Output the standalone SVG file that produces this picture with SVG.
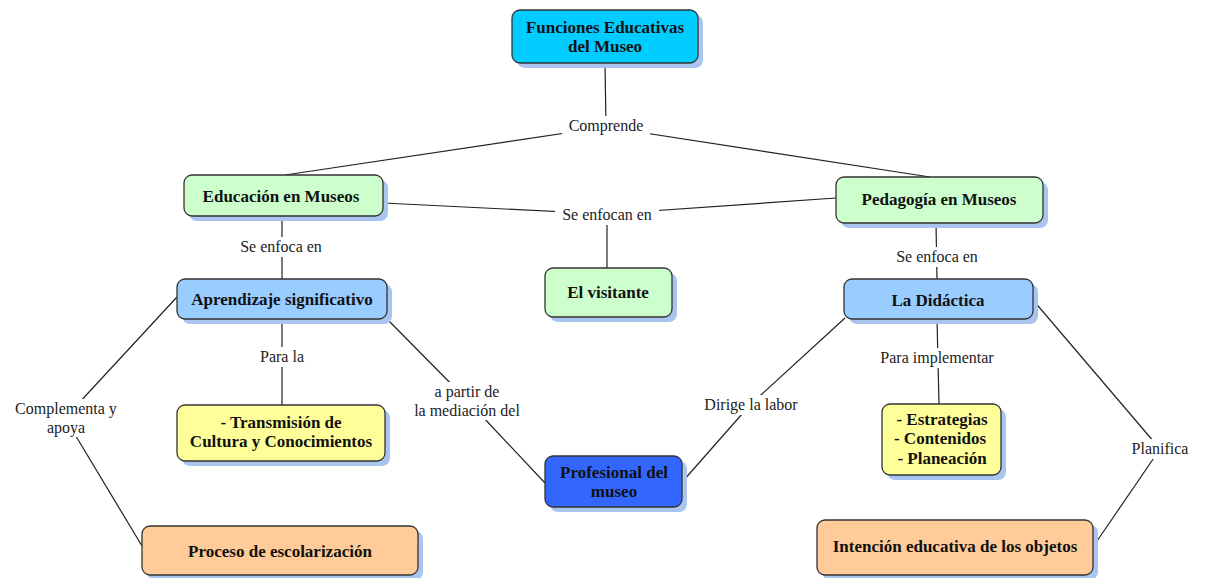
<svg xmlns="http://www.w3.org/2000/svg" width="1207" height="578" viewBox="0 0 1207 578">
<style>
.shadow{fill:#a9c4ee}
.box{stroke:#333;stroke-width:1.3}
.nt{font-family:'Liberation Serif','Times New Roman','DejaVu Serif',serif;font-weight:bold;font-size:17px;fill:#111;text-anchor:middle}
.lt{font-family:'Liberation Serif','Times New Roman','DejaVu Serif',serif;font-size:16px;fill:#222;text-anchor:middle}
.bg{fill:#fff}
#connectors line{stroke:#222;stroke-width:1.2}
</style>
<rect width="1207" height="578" fill="#fff"/>
<g id="connectors">
<line x1="605" y1="63" x2="606" y2="127"/>
<line x1="606" y1="127" x2="285" y2="175"/>
<line x1="606" y1="127" x2="930" y2="177"/>
<line x1="383" y1="203" x2="607" y2="214"/>
<line x1="607" y1="214" x2="836" y2="198"/>
<line x1="607" y1="214" x2="607" y2="268"/>
<line x1="282" y1="216" x2="282" y2="279"/>
<line x1="936" y1="223" x2="937" y2="279"/>
<line x1="282" y1="319" x2="282" y2="405"/>
<line x1="388" y1="320" x2="467" y2="400"/>
<line x1="467" y1="400" x2="545" y2="483"/>
<line x1="177" y1="297" x2="65" y2="418"/>
<line x1="65" y1="418" x2="142" y2="546"/>
<line x1="845" y1="318" x2="750" y2="405"/>
<line x1="750" y1="405" x2="683" y2="481"/>
<line x1="937" y1="319" x2="939" y2="404"/>
<line x1="1033" y1="300" x2="1160" y2="449"/>
<line x1="1160" y1="449" x2="1095" y2="544"/>
<g id="labels">
<rect class="bg" x="562" y="116" width="88" height="20"/>
<text class="lt" x="606" y="131">Comprende</text>
<rect class="bg" x="555" y="205" width="104" height="20"/>
<text class="lt" x="607" y="220">Se enfocan en</text>
<rect class="bg" x="233" y="237" width="98" height="20"/>
<text class="lt" x="281" y="252">Se enfoca en</text>
<rect class="bg" x="888" y="247" width="98" height="20"/>
<text class="lt" x="937" y="262">Se enfoca en</text>
<rect class="bg" x="253" y="347" width="58" height="20"/>
<text class="lt" x="282" y="362">Para la</text>
<rect class="bg" x="414" y="382" width="106" height="38"/>
<text class="lt" x="467" y="397">a partir de</text>
<text class="lt" x="467" y="416">la mediación del</text>
<rect class="bg" x="8" y="399" width="116" height="38"/>
<text class="lt" x="66" y="414">Complementa y</text>
<text class="lt" x="66" y="433">apoya</text>
<rect class="bg" x="698" y="395" width="106" height="20"/>
<text class="lt" x="751" y="410">Dirige la labor</text>
<rect class="bg" x="873" y="348" width="130" height="20"/>
<text class="lt" x="937" y="363">Para implementar</text>
<rect class="bg" x="1127" y="439" width="66" height="20"/>
<text class="lt" x="1160" y="454">Planifica</text>
</g>
</g>
<g id="n-funciones">
<rect class="shadow" x="517" y="15" width="186" height="53" rx="8"/>
<rect class="box" x="512" y="10" width="186" height="53" rx="8" fill="#00ccff"/>
<text class="nt" x="605" y="33">Funciones Educativas</text>
<text class="nt" x="605" y="52">del Museo</text>
</g>
<g id="n-educacion">
<rect class="shadow" x="189" y="180" width="199" height="41" rx="8"/>
<rect class="box" x="184" y="175" width="199" height="41" rx="8" fill="#ccffcc"/>
<text class="nt" x="281" y="202">Educación en Museos</text>
</g>
<g id="n-pedagogia">
<rect class="shadow" x="841" y="182" width="207" height="46" rx="8"/>
<rect class="box" x="836" y="177" width="207" height="46" rx="8" fill="#ccffcc"/>
<text class="nt" x="939" y="205">Pedagogía en Museos</text>
</g>
<g id="n-visitante">
<rect class="shadow" x="550" y="273" width="127" height="49" rx="8"/>
<rect class="box" x="545" y="268" width="127" height="49" rx="8" fill="#ccffcc"/>
<text class="nt" x="608" y="298">El visitante</text>
</g>
<g id="n-aprendizaje">
<rect class="shadow" x="182" y="284" width="210" height="40" rx="8"/>
<rect class="box" x="177" y="279" width="210" height="40" rx="8" fill="#99ccff"/>
<text class="nt" x="282" y="305">Aprendizaje significativo</text>
</g>
<g id="n-didactica">
<rect class="shadow" x="849" y="284" width="189" height="40" rx="8"/>
<rect class="box" x="844" y="279" width="189" height="40" rx="8" fill="#99ccff"/>
<text class="nt" x="938" y="306">La Didáctica</text>
</g>
<g id="n-transmision">
<rect class="shadow" x="182" y="410" width="208" height="56" rx="8"/>
<rect class="box" x="177" y="405" width="208" height="56" rx="8" fill="#ffff99"/>
<text class="nt" x="281" y="428">- Transmisión de</text>
<text class="nt" x="281" y="447">Cultura y Conocimientos</text>
</g>
<g id="n-profesional">
<rect class="shadow" x="550" y="461" width="137" height="51" rx="8"/>
<rect class="box" x="545" y="456" width="137" height="51" rx="8" fill="#3366ff"/>
<text class="nt" x="614" y="478">Profesional del</text>
<text class="nt" x="614" y="497">museo</text>
</g>
<g id="n-estrategias">
<rect class="shadow" x="887" y="409" width="119" height="71" rx="8"/>
<rect class="box" x="882" y="404" width="119" height="71" rx="8" fill="#ffff99"/>
<text class="nt" x="942" y="425">- Estrategias</text>
<text class="nt" x="940" y="444">- Contenidos</text>
<text class="nt" x="942" y="464">- Planeación</text>
</g>
<g id="n-proceso">
<rect class="shadow" x="147" y="531" width="276" height="49" rx="8"/>
<rect class="box" x="142" y="526" width="276" height="49" rx="8" fill="#ffcc99"/>
<text class="nt" x="280" y="557">Proceso de escolarización</text>
</g>
<g id="n-intencion">
<rect class="shadow" x="822" y="525" width="276" height="55" rx="8"/>
<rect class="box" x="817" y="520" width="276" height="55" rx="8" fill="#ffcc99"/>
<text class="nt" x="955" y="552">Intención educativa de los objetos</text>
</g>
</svg>
